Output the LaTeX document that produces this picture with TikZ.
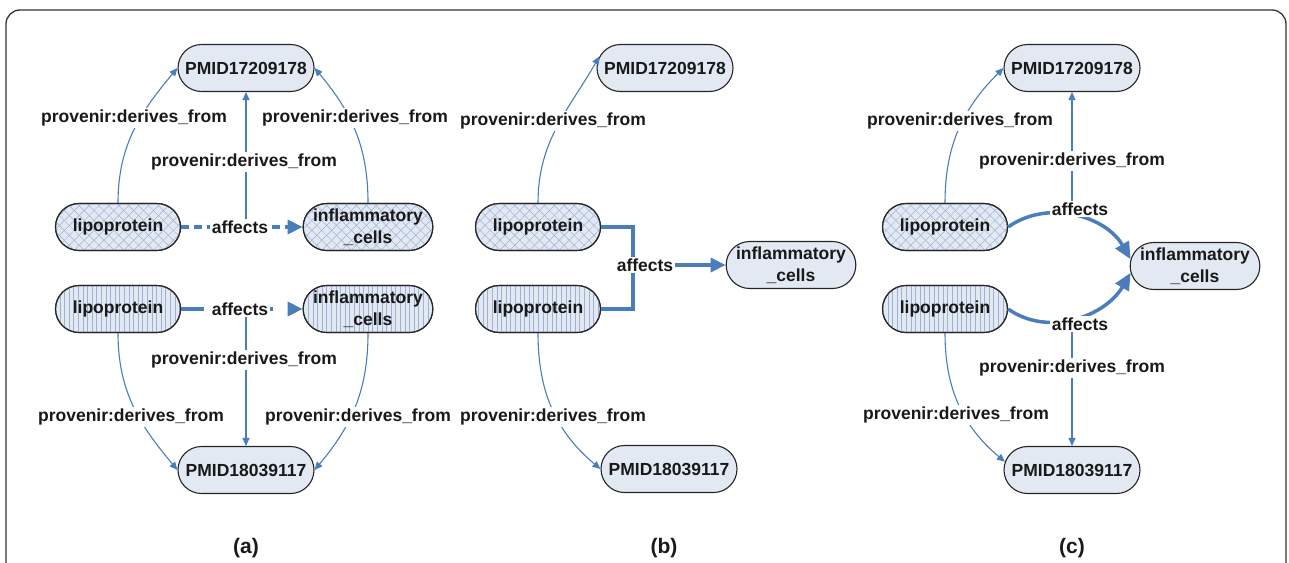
\documentclass[tikz,border=0pt]{standalone}
\usepackage{fontspec}
\setmainfont{Liberation Sans}
\usetikzlibrary{arrows.meta,shapes.misc,patterns.meta}
\definecolor{nodefill}{RGB}{226,233,243}
\definecolor{hatch}{RGB}{160,178,210}
\definecolor{edgecol}{RGB}{74,126,187}
\newcommand{\nf}{\fontsize{17.5pt}{22pt}\selectfont\bfseries}
\newcommand{\cf}{\fontsize{21pt}{24pt}\selectfont\bfseries}
\tikzset{
  base/.style={draw=black!85, line width=1.1pt, rounded rectangle, fill=nodefill,
    minimum height=47pt, inner sep=1pt, font=\nf, align=center, text=black!90},
  pmid/.style={base, minimum width=138pt},
  conc/.style={base, minimum width=127pt},
  xhatch/.style={conc,
    postaction={pattern={Lines[angle=45,distance=7pt,line width=0.5pt]}, pattern color=hatch},
    postaction={pattern={Lines[angle=-45,distance=7pt,line width=0.5pt]}, pattern color=hatch},
    postaction={draw=black!85, line width=1.1pt}},
  vhatch/.style={conc,
    postaction={pattern={Lines[angle=90,distance=4.6pt,line width=0.6pt]}, pattern color=hatch},
    postaction={draw=black!85, line width=1.1pt}},
  lbl/.style={fill=white, inner sep=1.5pt, font=\nf, text=black!90},
  caplbl/.style={font=\cf, text=black!90},
  thinarr/.style={draw=edgecol, line width=1.1pt, -{Triangle[length=8pt,width=7pt]}},
  thickarr/.style={draw=edgecol, line width=3.5pt, line cap=butt, -{Triangle[length=15pt,width=14pt]}},
  bigarr/.style={draw=edgecol, line width=3.5pt, line cap=butt, -{Triangle[length=17pt,width=15pt]}},
  thickline/.style={draw=edgecol, line width=3.5pt}
}
\begin{document}
\begin{tikzpicture}[x=1pt,y=1pt]
\useasboundingbox (0,0) rectangle (1289,-562);
\begin{scope}
\clip (0,0) rectangle (1289,-562);
\draw[line width=1.3pt, black!80, rounded corners=14pt] (6,-10) rectangle (1286,-640);
\end{scope}

% ---------- panel (a) ----------
\node[pmid] (pa1) at (246,-68) {PMID17209178};
\node[xhatch] (lipa1) at (118,-227) {lipoprotein};
\node[xhatch] (infla1) at (368,-227) {inflammatory\\\_cells};
\node[vhatch] (lipa2) at (118,-309) {lipoprotein};
\node[vhatch] (infla2) at (368,-309) {inflammatory\\\_cells};
\node[pmid] (pa2) at (246,-470) {PMID18039117};

\draw[thinarr] (lipa1.north) to[out=90,in=-130] (pa1.west);
\draw[thinarr] (infla1.north) to[out=90,in=-50] (pa1.east);
\draw[thickarr, dash pattern=on 8pt off 5pt] (lipa1.east) -- (infla1.west);
\node[lbl] (affa1) at (240,-227) {affects};
\draw[thinarr] (affa1.north -| pa1.south) -- (pa1.south);

\draw[thickarr, dash pattern=on 23pt off 66pt on 3pt off 100pt] (lipa2.east) -- (infla2.west);
\node[lbl] (affa2) at (240,-309) {affects};
\draw[thinarr] (affa2.south -| pa2.north) -- (pa2.north);
\draw[thinarr] (lipa2.south) to[out=-90,in=130] (pa2.west);
\draw[thinarr] (infla2.south) to[out=-90,in=50] (pa2.east);

\node[lbl] at (134,-118) {provenir:derives\_from};
\node[lbl] at (355,-118) {provenir:derives\_from};
\node[lbl] at (244,-162) {provenir:derives\_from};
\node[lbl] at (244,-360) {provenir:derives\_from};
\node[lbl] at (131,-417) {provenir:derives\_from};
\node[lbl] at (358,-417) {provenir:derives\_from};
\node[caplbl] (capa) at (246,-548) {(a)};

% ---------- panel (b) ----------
\node[pmid] (pb1) at (665,-68) {PMID17209178};
\node[xhatch] (lipb1) at (538,-227) {lipoprotein};
\node[vhatch] (lipb2) at (538,-309) {lipoprotein};
\node[conc] (inflb) at (791,-265) {inflammatory\\\_cells};
\node[pmid] (pb2) at (669,-469) {PMID18039117};

\draw[thinarr] (lipb1.north) to[out=90,in=-120] (pb1.170);
\draw[thinarr] (lipb2.south) to[out=-90,in=140] (pb2.west);
\coordinate (jb) at (633,-265);
\draw[thickline] (lipb1.east) -| (jb) |- (lipb2.east);
\draw[thickarr] (jb) -- (inflb.west);
\node[lbl] (affb) at (645,-265) {affects};
\node[lbl] at (553,-121) {provenir:derives\_from};
\node[lbl] at (553,-417) {provenir:derives\_from};
\node[caplbl] (capb) at (664,-548) {(b)};

% ---------- panel (c) ----------
\node[pmid] (pc1) at (1072,-68) {PMID17209178};
\node[xhatch] (lipc1) at (945,-227) {lipoprotein};
\node[vhatch] (lipc2) at (945,-309) {lipoprotein};
\node[conc] (inflc) at (1195,-266) {inflammatory\\\_cells};
\node[pmid] (pc2) at (1072,-470) {PMID18039117};

\draw[thinarr] (lipc1.north) to[out=90,in=-135] (pc1.west);
\draw[thinarr] (lipc2.south) to[out=-90,in=140] (pc2.173);
\draw[bigarr] (lipc1.east) to[out=35,in=120] (inflc.174);
\draw[bigarr] (lipc2.east) to[out=-35,in=-120] (inflc.186);
\node[lbl] (affc1) at (1080,-209) {affects};
\node[lbl] (affc2) at (1080,-324) {affects};
\draw[thinarr] (affc1.north -| pc1.south) -- (pc1.south);
\draw[thinarr] (affc2.south -| pc2.north) -- (pc2.north);
\node[lbl] at (960,-121) {provenir:derives\_from};
\node[lbl] at (1072,-161) {provenir:derives\_from};
\node[lbl] at (1072,-368) {provenir:derives\_from};
\node[lbl] at (956,-415) {provenir:derives\_from};
\node[caplbl] (capc) at (1072,-548) {(c)};
\end{tikzpicture}
\end{document}
